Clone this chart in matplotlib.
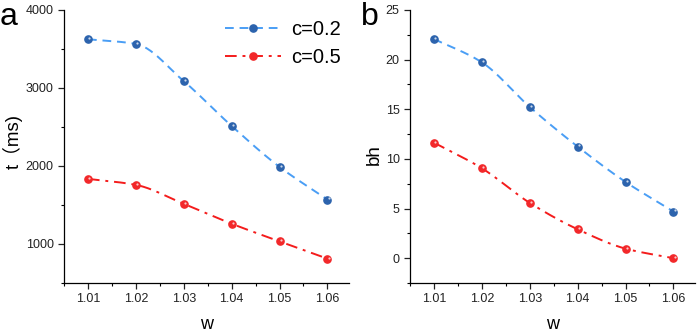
import numpy as np
import matplotlib
matplotlib.use("Agg")
import matplotlib.pyplot as plt
from matplotlib.ticker import MultipleLocator
from matplotlib.transforms import offset_copy

plt.rcParams['font.family'] = ['Liberation Sans', 'Noto Sans CJK SC', 'DejaVu Sans']

w = [1.01, 1.02, 1.03, 1.04, 1.05, 1.06]
t_c02 = [3625, 3565, 3088, 2513, 1988, 1570]
t_c05 = [1835, 1758, 1515, 1260, 1033, 812]
bh_c02 = [22.08, 19.73, 15.23, 11.24, 7.68, 4.7]
bh_c05 = [11.64, 9.06, 5.57, 2.91, 0.96, 0.0]
labels = ["c=0.2", "c=0.5"]

blue_line = "#4a9ef5"
blue_dot = "#2c63ad"
red_line = "#f41c1c"
red_dot = "#f2282a"


def smooth(x, y, n=200):
    # monotone cubic (Fritsch-Carlson), only for drawing the connecting curve
    x = np.asarray(x, float)
    y = np.asarray(y, float)
    h = np.diff(x)
    d = np.diff(y) / h
    m = np.zeros(len(x))
    m[0], m[-1] = d[0], d[-1]
    for i in range(1, len(x) - 1):
        if d[i - 1] * d[i] > 0:
            w1 = 2 * h[i] + h[i - 1]
            w2 = h[i] + 2 * h[i - 1]
            m[i] = (w1 + w2) / (w1 / d[i - 1] + w2 / d[i])
    xs = np.linspace(x[0], x[-1], n)
    j = np.clip(np.searchsorted(x, xs) - 1, 0, len(x) - 2)
    s = (xs - x[j]) / h[j]
    h00 = 2 * s**3 - 3 * s**2 + 1
    h10 = s**3 - 2 * s**2 + s
    h01 = -2 * s**3 + 3 * s**2
    h11 = s**3 - s**2
    ys = h00 * y[j] + h10 * h[j] * m[j] + h01 * y[j + 1] + h11 * h[j] * m[j + 1]
    return xs, ys


def series(ax, fig, x, y, lc, dc, ls, label):
    xs, ys = smooth(x, y)
    ax.plot(xs, ys, color=lc, ls=ls, lw=1.4)
    ax.plot(x, y, 'o', color=dc, ms=5.2, mec=dc, zorder=3)
    hl = offset_copy(ax.transData, fig=fig, x=0.8, y=0.8, units='points')
    ax.plot(x, y, 'o', color='white', alpha=0.75, ms=1.6, mew=0, transform=hl, zorder=4)
    ax.plot([], [], color=lc, ls=ls, lw=1.4, marker='o', mfc=dc, mec=dc, ms=5.2, label=label)


fig = plt.figure(figsize=(6.99, 3.34), dpi=100)
axa = fig.add_axes([64 / 699, 51 / 334, 285 / 699, 273 / 334])
axb = fig.add_axes([410 / 699, 51 / 334, 285 / 699, 273 / 334])

dash = (0, (4.5, 3))
dashdot = (0, (6, 3, 1.5, 3))
series(axa, fig, w, t_c02, blue_line, blue_dot, dash, labels[0])
series(axa, fig, w, t_c05, red_line, red_dot, dashdot, labels[1])
series(axb, fig, w, bh_c02, blue_line, blue_dot, dash, labels[0])
series(axb, fig, w, bh_c05, red_line, red_dot, dashdot, labels[1])

axa.set_ylim(500, 4000)
axa.yaxis.set_major_locator(MultipleLocator(1000))
axa.yaxis.set_minor_locator(MultipleLocator(500))
axb.set_ylim(-2.5, 25)
axb.yaxis.set_major_locator(MultipleLocator(5))
axb.yaxis.set_minor_locator(MultipleLocator(2.5))

for ax in (axa, axb):
    ax.set_xlim(1.005, 1.0645)
    ax.set_xticks(w)
    ax.set_xticklabels([f"{v:.2f}" for v in w])
    ax.xaxis.set_minor_locator(MultipleLocator(0.005))
    ax.spines['top'].set_visible(False)
    ax.spines['right'].set_visible(False)
    for s in ('left', 'bottom'):
        ax.spines[s].set_linewidth(0.9)
    ax.tick_params(which='major', direction='out', length=4, width=0.9, labelsize=9, colors='#222222')
    ax.tick_params(which='minor', direction='out', length=2.2, width=0.8)
    ax.tick_params(axis='x', pad=3)
    ax.set_xlabel("w", fontsize=13)
    ax.xaxis.set_label_coords(0.5, -0.12)

axa.set_ylabel("t（ms)", fontsize=13.5)
axa.yaxis.set_label_coords(-0.145, 0.52)
axb.set_ylabel("bh", fontsize=13.5)
axb.yaxis.set_label_coords(-0.095, 0.47)

axa.legend(loc='upper right', bbox_to_anchor=(1.035, 1.03), frameon=False, fontsize=14.5,
           handlelength=2.8, handletextpad=0.5, labelspacing=0.45, numpoints=1)

fig.text(0.0, 0.995, "a", fontsize=23, va='top', ha='left')
fig.text(361 / 699, 0.995, "b", fontsize=23, va='top', ha='left')

fig.savefig("out.png", dpi=100)
